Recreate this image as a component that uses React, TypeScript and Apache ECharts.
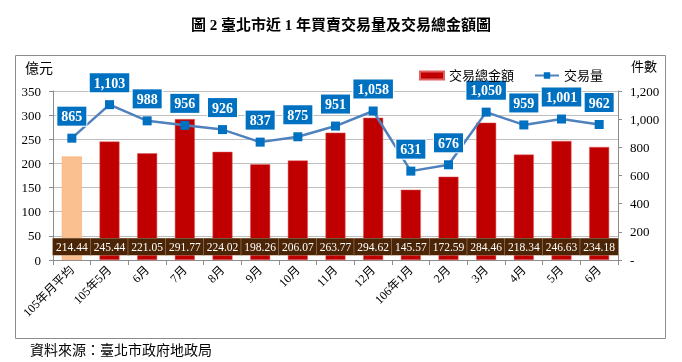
import React, { useEffect, useRef } from "react";
import * as echarts from "echarts";

const categories = ["105年月平均", "105年5月", "6月", "7月", "8月", "9月", "10月", "11月", "12月", "106年1月", "2月", "3月", "4月", "5月", "6月"];
const amountValues = [214.44, 245.44, 221.05, 291.77, 224.02, 198.26, 206.07, 263.77, 294.62, 145.57, 172.59, 284.46, 218.34, 246.63, 234.18];
const volumeValues = [865, 1103, 988, 956, 926, 837, 875, 951, 1058, 631, 676, 1050, 959, 1001, 962];
const leftTicks = [0, 350, 50];
const rightTicks = [0, 1200, 200];

const SERIF = "'Liberation Serif', 'Noto Sans CJK TC', serif";
const fmt = (v: number) => v.toLocaleString("en-US");

export default function App() {
  const ref = useRef<HTMLDivElement>(null);
  useEffect(() => {
    const chart = echarts.init(ref.current!, null, { renderer: "svg" });
    chart.setOption({
      animation: false,
      textStyle: { fontFamily: SERIF },
      title: {
        text: "圖 2 臺北市近 1 年買賣交易量及交易總金額圖",
        left: "center",
        top: 12,
        textStyle: { fontFamily: SERIF, fontSize: 15, fontWeight: "bold", color: "#000" },
      },
      graphic: [
        { type: "rect", shape: { x: 15.5, y: 55.5, width: 650, height: 283 }, style: { fill: "none", stroke: "#8c8c8c", lineWidth: 1 } },
        { type: "text", left: 25, top: 61, style: { text: "億元", font: `14px ${SERIF}`, fill: "#000" } },
        { type: "text", left: 631, top: 60, style: { text: "件數", font: `13px ${SERIF}`, fill: "#000" } },
        { type: "text", left: 30, top: 343, style: { text: "資料來源：臺北市政府地政局", font: `14px ${SERIF}`, fill: "#000" } },
      ],
      legend: {
        top: 64,
        left: 414,
        itemGap: 20,
        itemWidth: 24,
        itemHeight: 8,
        textStyle: { fontFamily: SERIF, fontSize: 13, color: "#000" },
        data: [
          { name: "交易總金額", icon: "rect", itemStyle: { color: "#C00000" } },
          { name: "交易量" },
        ],
      },
      grid: { left: 53, right: 64, top: 91, bottom: 102 },
      xAxis: {
        type: "category",
        data: categories,
        boundaryGap: true,
        axisLine: { lineStyle: { color: "#8c8c8c" } },
        axisTick: { show: true, alignWithLabel: false, length: 5, lineStyle: { color: "#8c8c8c" } },
        axisLabel: { rotate: 45, interval: 0, fontSize: 12, color: "#000", fontFamily: SERIF, margin: 8 },
      },
      yAxis: [
        {
          type: "value",
          min: leftTicks[0],
          max: leftTicks[1],
          interval: leftTicks[2],
          axisLine: { show: true, lineStyle: { color: "#8c8c8c" } },
          axisTick: { show: true, inside: false, length: 4, lineStyle: { color: "#8c8c8c" } },
          splitLine: { lineStyle: { color: "#bfbfbf" } },
          axisLabel: { fontSize: 13, color: "#000", fontFamily: SERIF, margin: 12 },
        },
        {
          type: "value",
          min: rightTicks[0],
          max: rightTicks[1],
          interval: rightTicks[2],
          axisLine: { show: true, lineStyle: { color: "#8c8c8c" } },
          axisTick: { show: true, length: 4, lineStyle: { color: "#8c8c8c" } },
          splitLine: { show: false },
          axisLabel: {
            fontSize: 13,
            color: "#000",
            fontFamily: SERIF,
            margin: 12,
            formatter: (v: number) => (v === 0 ? "-" : fmt(v)),
          },
        },
      ],
      series: [
        {
          name: "交易總金額",
          type: "bar",
          yAxisIndex: 0,
          barWidth: 20,
          data: amountValues.map((v, i) =>
            i === 0
              ? { value: v, itemStyle: { color: "#FAC090", borderColor: "#f4a46a", borderWidth: 0.5 } }
              : { value: v }
          ),
          itemStyle: { color: "#C00000", borderColor: "#e06060", borderWidth: 0.5 },
          label: {
            show: true,
            position: "insideBottom",
            distance: 5,
            width: 37.8,
            align: "center",
            padding: [3, 0, 2, 0],
            backgroundColor: "#4B2506",
            borderColor: "#a58a70",
            borderWidth: 0.6,
            color: "#ffffff",
            fontSize: 11.5,
            fontFamily: SERIF,
            formatter: (p: any) => p.value.toFixed(2),
          },
          z: 2,
        },
        {
          name: "交易量",
          type: "line",
          yAxisIndex: 1,
          data: volumeValues,
          symbol: "rect",
          symbolSize: 9,
          itemStyle: { color: "#0070C0" },
          lineStyle: { color: "#4F81BD", width: 2.5 },
          label: {
            show: true,
            position: "top",
            distance: 8,
            backgroundColor: "#0070C0",
            borderColor: "#ffffff",
            borderWidth: 1,
            color: "#ffffff",
            fontWeight: "bold",
            fontSize: 14,
            fontFamily: SERIF,
            padding: [3, 4, 2, 4],
            formatter: (p: any) => fmt(p.value),
          },
          z: 3,
        },
      ],
    });
    return () => chart.dispose();
  }, []);
  return <div ref={ref} style={{ position: "fixed", left: 0, top: 0, width: 682, height: 362 }} />;
}
